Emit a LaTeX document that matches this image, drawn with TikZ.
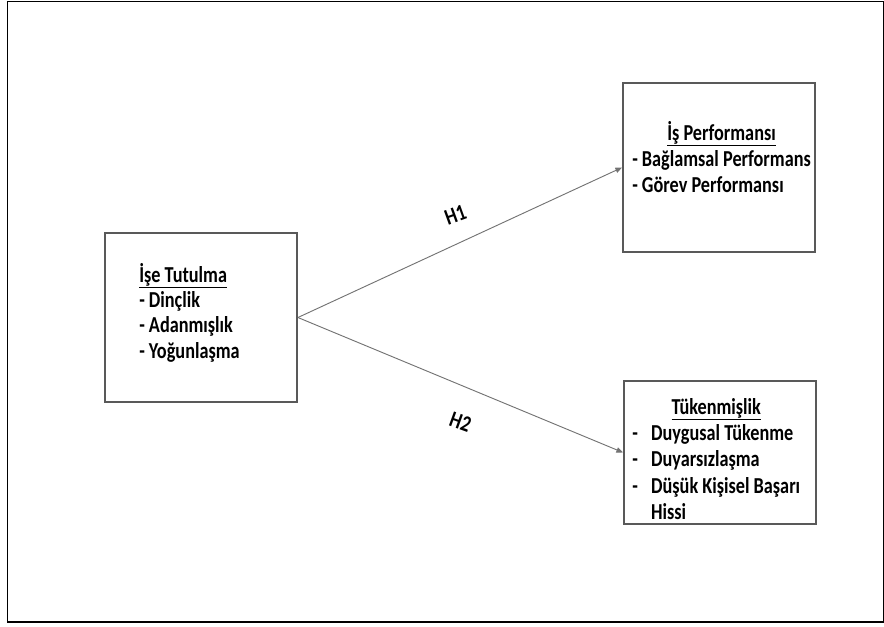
\documentclass[tikz,border=0pt]{standalone}
\usepackage{fontspec}
\setmainfont{Carlito}
\newfontfamily\narrowbold[FakeStretch=0.8]{Carlito Bold}
\usetikzlibrary{arrows.meta, positioning}

\begin{document}
\begin{tikzpicture}[
    x=0.75pt, y=-0.75pt,
    box/.style={draw=black!65, line width=1.4pt, minimum width=144pt, inner sep=0pt},
    txt/.style={inner sep=0pt, anchor=base west, font=\fontsize{17.1}{19}\narrowbold},
    hyp/.style={-{Triangle[length=5pt, width=4pt]}, draw=black!55, line width=0.7pt},
    hlabel/.style={font=\fontsize{17.1}{18}\narrowbold, inner sep=1pt}
]
    \useasboundingbox (0,0) rectangle (884,626);
    % outer frame
    \draw[line width=1.1pt] (7.5,1.5) rectangle (883.5,622);

    % boxes
    \node[box, minimum height=126.75pt] (engagement) at (201,317.5) {};
    \node[box, minimum height=126.75pt] (performance) at (719,167.5) {};
    \node[box, minimum height=107.25pt] (burnout) at (720,452.5) {};

    % box texts
    \node[txt] (engagementtext) at (139,282) {\begin{tabular}[t]{@{}l@{}}
        \underline{İşe Tutulma}\\
        - Dinçlik\\
        - Adanmışlık\\
        - Yoğunlaşma
    \end{tabular}};
    \node[txt, font=\fontsize{17.1}{19.8}\narrowbold] (performancetext) at (632,140) {\begin{tabular}[t]{@{}l@{}}
        \multicolumn{1}{c}{\underline{İş Performansı}}\\
        - Bağlamsal Performans\\
        - Görev Performansı
    \end{tabular}};
    \node[txt, font=\fontsize{17.1}{19.8}\narrowbold] (burnouttext) at (632,414) {\begin{tabular}[t]{@{}l@{\hspace{10pt}}l@{}}
        \multicolumn{2}{c}{\underline{Tükenmişlik}}\\
        - & Duygusal Tükenme\\
        - & Duyarsızlaşma\\
        - & Düşük Kişisel Başarı\\
          & Hissi
    \end{tabular}};

    % hypotheses
    \draw[hyp] (engagement.east) -- node[hlabel, pos=0.486, yshift=22.5pt, rotate=20] (h1) {H1} (performance.west);
    \draw[hyp] (engagement.east) -- node[hlabel, pos=0.5, yshift=-28pt, rotate=-20] (h2) {H2} (burnout.west);
\end{tikzpicture}
\end{document}
